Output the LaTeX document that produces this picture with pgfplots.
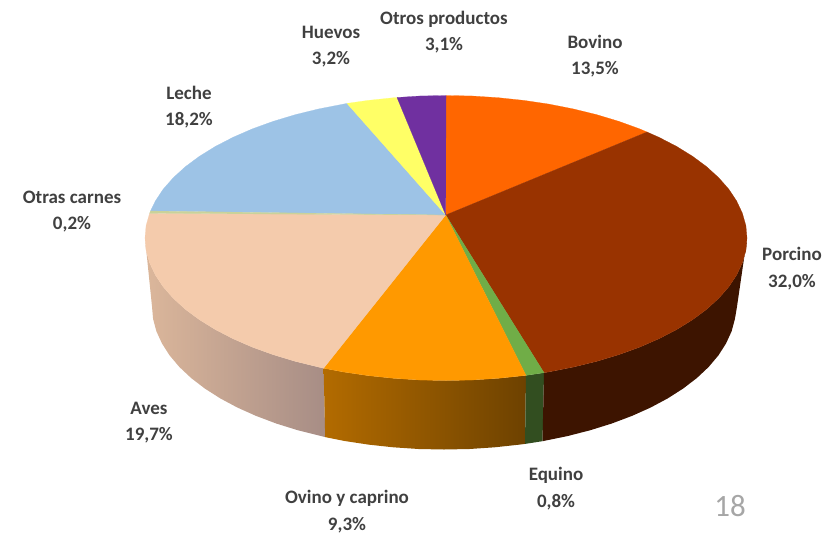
\documentclass[border=0pt]{standalone}
\usepackage{fontspec}
\setmainfont{Carlito}
\usepackage{pgfplots}
\pgfplotsset{compat=1.18}
\definecolor{bovino}{HTML}{FF6600}
\definecolor{porcino}{HTML}{993300}
\definecolor{equino}{HTML}{70AD47}
\definecolor{ovino}{HTML}{FF9900}
\definecolor{aves}{HTML}{F4CBAC}
\definecolor{otrascarnes}{HTML}{C9D29A}
\definecolor{leche}{HTML}{9DC3E6}
\definecolor{huevos}{HTML}{FFFF66}
\definecolor{otros}{HTML}{7030A0}
\definecolor{lbl}{HTML}{404040}
\newcommand{\lab}[3]{\node[font=\fontsize{19}{26.5}\selectfont\bfseries, text=lbl, align=center] at (axis cs:#1) {#2\\#3};}
\begin{document}
\begin{tikzpicture}
\begin{axis}[
  width=829pt, height=533pt, scale only axis,
  xmin=0, xmax=829, ymin=0, ymax=533,
  y dir=reverse, hide axis, clip=false,
]
\path[use as bounding box] (axis cs:0,0) rectangle (axis cs:829,533);

% side wall
\addplot[fill=black!0, draw=none, left color=aves!90!black, right color=aves!70!black!95!blue!95] coordinates {
  (145,238)(146.1,250.4)(149.6,262.7)(155.3,274.9)(163.1,286.7)(173.2,298.2)(185.3,309.25)(199.4,319.7)(215.4,329.6)(233.2,338.8)(252.5,347.2)(273.3,354.7)(295.5,361.4)(318.8,367.1)(323.6,368.2)
  (325.2,437.1)(298,430.3)(276.5,423.6)(256.3,416)(237.5,407.6)(220.3,398.4)(204.8,388.5)(191.1,378)(179.4,367)(169.6,355.4)(162,343.5)(156.4,331.3)(153.1,319)(152,306.5)
} -- cycle;
\addplot[draw=none, left color=ovino!70!black, right color=ovino!43!black] coordinates {
  (323.6,368.2)(343.1,371.9)(368.1,375.6)(393.7,378.3)(419.8,380)(446,380.5)(472.2,380)(498.3,378.3)(526,375.4)
  (525,443.9)(519.6,444.6)(494.7,447.3)(469.4,449)(444,449.5)(418.6,449)(393.3,447.3)(368.4,444.6)(344.1,440.9)(325.2,437.1)
} -- cycle;
\addplot[fill=equino!45!black, draw=none] coordinates {
  (526,375.4)(544,372.7)(542.5,441.2)(525,443.9)
} -- cycle;
\addplot[fill=porcino!40!black, draw=none] coordinates {
  (544,372.7)(548.9,371.9)(573.2,367.1)(596.5,361.4)(618.7,354.7)(639.5,347.2)(658.8,338.8)(676.6,329.6)(692.6,319.7)(706.7,309.25)(718.8,298.2)(728.9,286.7)(736.7,274.9)(742.4,262.7)(745.9,250.4)(747,238)
  (737,306.5)(734.9,319)(731.6,331.3)(726,343.5)(718.4,355.4)(708.6,367)(696.9,378)(683.2,388.5)(667.7,398.4)(650.5,407.6)(631.7,416)(611.5,423.6)(590,430.3)(567.4,436.1)(542.5,441.2)
} -- cycle;

% top face
\addplot[fill=bovino, draw=bovino, line width=0.2pt] coordinates {
  (445.7,215)(446,95.5)(472.2,96)(498.3,97.7)(523.9,100.4)(548.9,104.1)(573.2,108.9)(596.5,114.6)(618.7,121.3)(639.5,128.8)(647,132)
} -- cycle;
\addplot[fill=porcino, draw=porcino, line width=0.2pt] coordinates {
  (445.7,215)(647,132)(658.8,137.2)(676.6,146.4)(692.6,156.3)(706.7,166.75)(718.8,177.8)(728.9,189.3)(736.7,201.1)(742.4,213.3)(745.9,225.6)(747,238)(745.9,250.4)(742.4,262.7)(736.7,274.9)(728.9,286.7)(718.8,298.2)(706.7,309.25)(692.6,319.7)(676.6,329.6)(658.8,338.8)(639.5,347.2)(618.7,354.7)(596.5,361.4)(573.2,367.1)(548.9,371.9)(544,372.7)
} -- cycle;
\addplot[fill=equino, draw=equino, line width=0.2pt] coordinates {
  (445.7,215)(544,372.7)(526,375.4)
} -- cycle;
\addplot[fill=ovino, draw=ovino, line width=0.2pt] coordinates {
  (445.7,215)(526,375.4)(498.3,378.3)(472.2,380)(446,380.5)(419.8,380)(393.7,378.3)(368.1,375.6)(343.1,371.9)(323.6,368.2)
} -- cycle;
\addplot[fill=aves, draw=aves, line width=0.2pt] coordinates {
  (445.7,215)(323.6,368.2)(318.8,367.1)(295.5,361.4)(273.3,354.7)(252.5,347.2)(233.2,338.8)(215.4,329.6)(199.4,319.7)(185.3,309.25)(173.2,298.2)(163.1,286.7)(155.3,274.9)(149.6,262.7)(146.1,250.4)(145,238)(146.1,225.6)(149.6,213.3)
} -- cycle;
\addplot[fill=leche, draw=leche, line width=0.2pt] coordinates {
  (445.7,215)(150.5,211)(155.3,201.1)(163.1,189.3)(173.2,177.8)(185.3,166.75)(199.4,156.3)(215.4,146.4)(233.2,137.2)(252.5,128.8)(273.3,121.3)(295.5,114.6)(318.8,108.9)(347,103.4)
} -- cycle;
\addplot[fill=otrascarnes, draw=otrascarnes, line width=0.2pt] coordinates {
  (445.7,215)(149.6,213.3)(150.5,211)
} -- cycle;
\addplot[fill=huevos, draw=huevos, line width=0.2pt] coordinates {
  (445.7,215)(347,103.4)(368.1,100.4)(393.7,97.7)(397,97.5)
} -- cycle;
\addplot[fill=otros, draw=otros, line width=0.2pt] coordinates {
  (445.7,215)(397,97.5)(419.8,96)(446,95.5)
} -- cycle;

\lab{595,56}{Bovino}{13,5\%}
\lab{444,32}{Otros productos}{3,1\%}
\lab{331,46.5}{Huevos}{3,2\%}
\lab{189,107}{Leche}{18,2\%}
\lab{72,211.5}{Otras carnes}{0,2\%}
\lab{149,422.5}{Aves}{19,7\%}
\lab{347,511.5}{Ovino y caprino}{9,3\%}
\lab{556,488.5}{Equino}{0,8\%}
\lab{792,268.5}{Porcino}{32,0\%}
\node[font=\fontsize{31}{31}\selectfont, text=black!35] at (axis cs:730,506) {18};
\end{axis}
\end{tikzpicture}
\end{document}
